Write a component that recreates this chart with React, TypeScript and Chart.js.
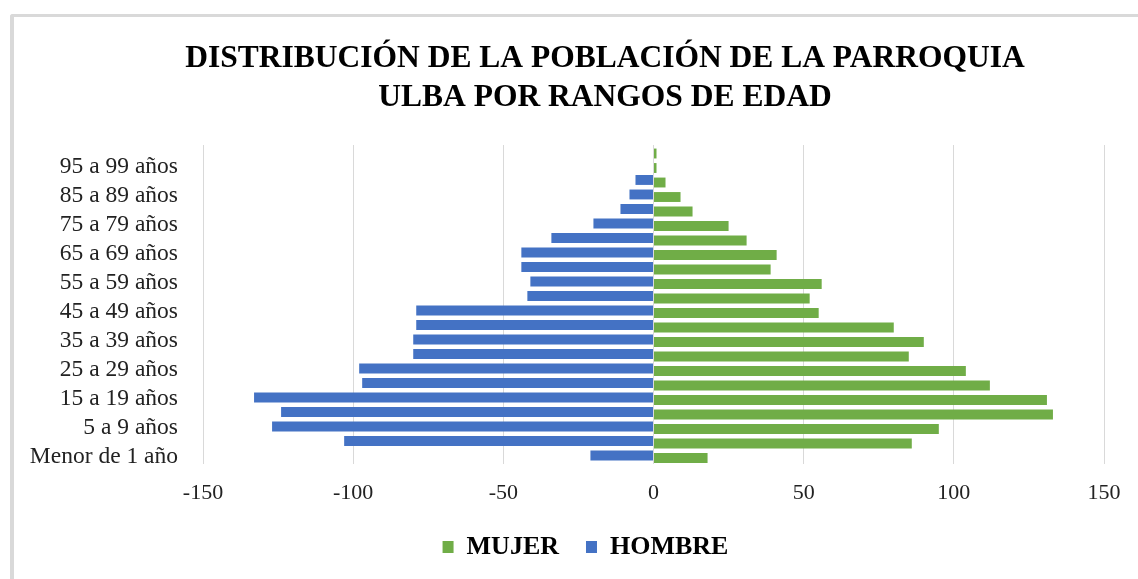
import { useEffect, useRef } from 'react';
import { Chart, registerables } from 'chart.js';

Chart.register(...registerables);

const categories = [
  'Menor de 1 año', '1 a 4 años', '5 a 9 años', '10 a 14 años', '15 a 19 años',
  '20 a 24 años', '25 a 29 años', '30 a 34 años', '35 a 39 años', '40 a 44 años',
  '45 a 49 años', '50 a 54 años', '55 a 59 años', '60 a 64 años', '65 a 69 años',
  '70 a 74 años', '75 a 79 años', '80 a 84 años', '85 a 89 años', '90 a 94 años',
  '95 a 99 años', '100 años y más',
];
const hombre = [-21, -103, -127, -124, -133, -97, -98, -80, -80, -79, -79, -42, -41, -44, -44, -34, -20, -11, -8, -6, 0, 0];
const mujer = [18, 86, 95, 133, 131, 112, 104, 85, 90, 80, 55, 52, 56, 39, 41, 31, 25, 13, 9, 4, 1, 1];
const xTicks = [-150, -100, -50, 0, 50, 100, 150];
const titleLines = ['DISTRIBUCIÓN DE LA POBLACIÓN DE LA PARROQUIA', 'ULBA POR RANGOS DE EDAD'];

const FONT = '"Liberation Serif", "Times New Roman", serif';

const shiftPlugin = {
  id: 'shiftBlocks',
  afterLayout(chart: any) {
    const t = chart.titleBlock;
    if (t) { t.left += 46; t.right += 46; }
    const l = chart.legend;
    if (l) { l.left += 26.5; l.right += 26.5; }
  },
};

export default function App() {
  const ref = useRef<HTMLCanvasElement | null>(null);

  useEffect(() => {
    if (!ref.current) return;
    const chart = new Chart(ref.current, {
      type: 'bar',
      data: {
        labels: categories,
        datasets: [
          {
            label: 'HOMBRE',
            data: hombre,
            backgroundColor: '#4472C4',
            borderWidth: 0,
            categoryPercentage: 0.35,
            barPercentage: 3.9,
          },
          {
            label: 'MUJER',
            data: mujer,
            backgroundColor: '#70AD47',
            borderWidth: 0,
            categoryPercentage: 0.35,
            barPercentage: 3.9,
          },
        ],
      },
      plugins: [shiftPlugin],
      options: {
        indexAxis: 'y',
        animation: false,
        responsive: true,
        maintainAspectRatio: false,
        layout: { padding: { left: 0, right: 34, top: 0, bottom: 9 } },
        scales: {
          x: {
            type: 'linear',
            min: -150,
            max: 150,
            afterBuildTicks: (s: any) => { s.ticks = xTicks.map((v) => ({ value: v })); },
            afterFit: (s: any) => { s.height = 43; },
            grid: { color: '#d9d9d9', lineWidth: 1, drawTicks: false },
            border: { display: false },
            ticks: {
              padding: 16.5,
              color: '#222',
              font: { family: FONT, size: 22 },
            },
          },
          y: {
            type: 'category',
            reverse: true,
            grid: { display: false, drawTicks: false },
            border: { display: false },
            afterFit: (s: any) => { s.width = 189; },
            ticks: {
              autoSkip: false,
              padding: 25,
              color: '#222',
              font: { family: FONT, size: 23.5 },
              callback: (_v: any, i: number) => (i % 2 === 0 ? categories[i] : ''),
            },
          },
        },
        plugins: {
          title: {
            display: true,
            text: titleLines,
            color: '#000',
            font: { family: FONT, size: 31.5, weight: 'bold', lineHeight: 1.23 },
            padding: { top: 22.6, bottom: 27.9 },
          },
          legend: {
            display: true,
            position: 'bottom',
            reverse: true,
            labels: {
              boxWidth: 11,
              boxHeight: 12,
              padding: 27,
              color: '#000',
              font: { family: FONT, size: 26, weight: 'bold' },
            },
          },
          tooltip: { enabled: false },
        },
      },
    });
    return () => chart.destroy();
  }, []);

  return (
    <div style={{ position: 'fixed', left: 0, top: 0, width: 1138, height: 579, overflow: 'hidden', background: '#fff' }}>
      <div
        style={{
          position: 'absolute', left: 10, top: 14, width: 1400, height: 800,
          borderTop: '3px solid #d9d9d9', borderLeft: '4px solid #d9d9d9', borderTopLeftRadius: 3,
        }}
      />
      <div style={{ position: 'absolute', left: 14, top: 17, width: 1124, height: 562 }}>
        <canvas ref={ref} />
      </div>
    </div>
  );
}
